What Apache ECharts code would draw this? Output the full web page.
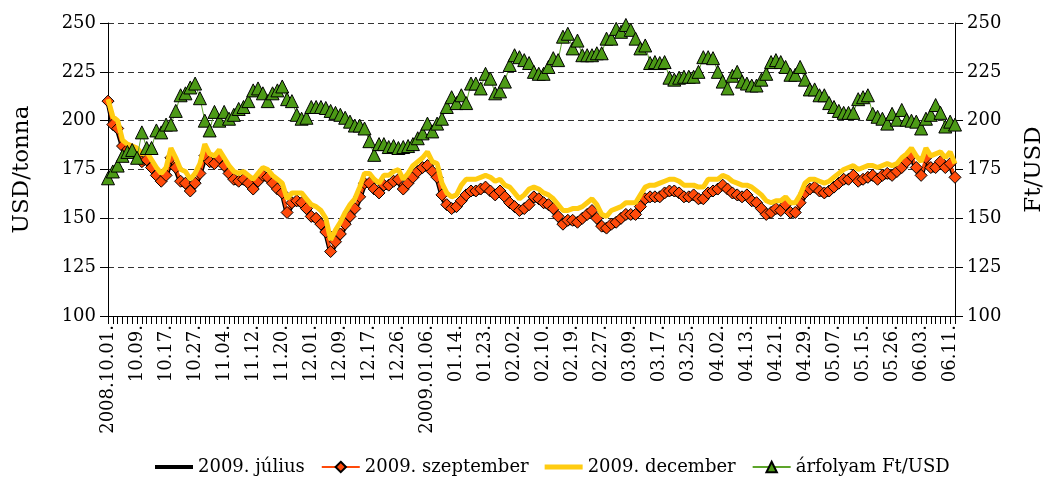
<!DOCTYPE html>
<html><head><meta charset="utf-8">
<script src="https://cdn.jsdelivr.net/npm/echarts@6/dist/echarts.min.js"></script>
<style>html,body{margin:0;padding:0;background:#fff}#c{width:1054px;height:487px}</style>
</head><body><div id="c"></div>
<script>
const tickLabels = ['2008.10.01.','10.09.','10.17.','10.27.','11.04.','11.12.','11.20.','12.01.','12.09.','12.17.','12.26.','2009.01.06.','01.14.','01.23.','02.02.','02.10.','02.19.','02.27.','03.09.','03.17.','03.25.','04.02.','04.13.','04.21.','04.29.','05.07.','05.15.','05.26.','06.03.','06.11.'];
const seriesNames = ['2009. július','2009. szeptember','2009. december','árfolyam Ft/USD'];
const julius = [208.5,196.5,194,185.5,183.5,182.5,180.5,177.5,178.5,174.5, 170.5,167.5,170.5,179,174.5,167.5,166.5,162.5,166.5,171.5, 180,177.5,176.5,179,175.5,171.5,168.5,167.5,168.5,166.5, 163.5,167.5,170.5,169.5,166.5,163.5,161.5,151.5,156.5,157.5, 156.5,153.5,149.5,148.5,145.5,141.5,131.5,136.5,140.5,145.5, 149.5,153.5,159.5,166.5,166.5,163.5,161.5,165.5,165.5,167.5, 168.5,163.5,166.5,169.5,172.5,174.5,175.5,172.5,169.5,160.5, 155.5,153.5,154.5,157.5,160.5,162.5,162.5,163.5,164.5,162.5, 160.5,162.5,159.5,156.5,154.5,152.5,153.5,155.5,159.5,158.5, 156.5,155.5,153.5,149.5,145.5,147.5,147.5,146.5,148.5,150.5, 152.5,148.5,144.5,143.5,145.5,146.5,148.5,150.5,150.5,150.5, 154.5,158.5,159.5,159.5,159.5,161.5,162.5,162.5,161.5,159.5, 159.5,160.5,158.5,158.5,161.5,162.5,163.5,165.5,163.5,161.5, 160.5,159.5,160.5,157.5,156.5,153.5,150.5,151.5,153.5,152.5, 155.5,151.5,151.5,156.5,161.5,163.5,164.5,162.5,161.5,162.5, 164.5,166.5,168.5,168.5,170.5,167.5,168.5,169.5,170.5,168.5, 170.5,171.5,170.5,172.5,174.5,177.5,180.5,174.5,170.5,179.5, 174.5,174.5,177.5,174.5,176.5,169.5];
const szeptember = [210,198,196,187,185,184,182,179,180,176, 172,169,172,181,176,169,168,164,168,173, 182,179,178,181,177,173,170,169,170,168, 165,169,172,171,168,165,163,153,158,159, 158,155,151,150,147,143,133,138,142,147, 151,155,161,168,168,165,163,167,167,169, 170,165,168,171,174,176,177,174,171,162, 157,155,156,159,162,164,164,165,166,164, 162,164,161,158,156,154,155,157,161,160, 158,157,155,151,147,149,149,148,150,152, 154,150,146,145,147,148,150,152,152,152, 156,160,161,161,161,163,164,164,163,161, 161,162,160,160,163,164,165,167,165,163, 162,161,162,159,158,155,152,153,155,154, 157,153,153,158,163,165,166,164,163,164, 166,168,170,170,172,169,170,171,172,170, 172,173,172,174,176,179,182,176,172,181, 176,176,179,176,178,171];
const december = [211,202,200,190,188,187,186,183,184,180, 176,173,176,186,181,175,174,170,173,178, 188,183,182,185,181,177,174,173,174,172, 170,173,176,175,172,170,168,160,163,163, 163,160,157,156,154,150,139,144,148,153, 157,160,166,173,173,170,168,172,172,174, 175,170,173,177,179,181,184,179,178,168, 163,161,162,167,170,170,170,171,172,171, 169,170,167,166,163,160,162,165,166,165, 163,162,160,157,154,154,155,155,156,158, 160,157,152,151,154,155,156,158,158,158, 162,166,167,167,168,169,170,170,169,167, 167,167,166,166,170,170,170,172,171,169, 168,167,167,166,164,162,159,158,159,159, 161,158,158,162,168,170,170,169,168,169, 171,173,175,176,177,175,176,177,177,176, 177,178,177,178,181,183,186,182,179,186, 182,183,184,181,184,178];
const arfolyam = [170.5,174,177,182,184,185,181,194,186,186, 195,194,198,198,205,213,214,217,219,211.5, 200,195,204.5,200,204.5,201,203,206,207,210, 215.5,216.5,214,210,214,215.5,217.5,211,210,203, 201,201.5,207,207,207,206.5,205,204,203,201.5, 199.5,197.5,197.5,196,189.5,182.5,188,188,186.5,187, 186,186.5,187,188,191,193.5,198.5,194.5,198.5,201, 207,212,209,213,209,219,219,216.5,224,221.5, 214,215,220,228.5,233.5,232.5,231,229.5,225,224, 224,227.5,232,231,243,244.5,237,241,233.5,233.5, 233.5,234.5,234.5,242,242,247,245.5,249,246.5,242, 237,238.5,229.5,230,229.5,230,222,221,222,222.5, 222.5,222.5,225,232.5,232.5,232,225,220,216.5,223, 225,220,219,218,218,221,224,230,231,230, 227.5,223.5,223.5,227.5,221,216,216,213,213,209, 207,205,204,204,204,211,212,213,203.5,202, 201,198.5,203.5,200.5,205.5,200.5,200,199.5,196,201, 203,208,204,197,199.5,198];

const categories = szeptember.map((_, i) => (i % 6 === 0 && tickLabels[i / 6]) ? tickLabels[i / 6] : '');
const FONT = '"DejaVu Serif","Liberation Serif",serif';
// legend icons: thick horizontal bars (invisible corner points keep the box 38x13)
const barIcon = (h) => 'path://M0,0H0.01V0.01H0Z M0,' + (6.5 - h / 2) + 'H38V' + (6.5 + h / 2) + 'H0Z M37.99,12.99H38V13H37.99Z';

const chart = echarts.init(document.getElementById('c'), null, {renderer: 'canvas'});
chart.setOption({
  animation: false,
  backgroundColor: '#fff',
  textStyle: {fontFamily: FONT, color: '#000'},
  grid: {left: 108, right: 98, top: 23, bottom: 171, containLabel: false},
  legend: {
    bottom: 6, left: 150, itemWidth: 38, itemHeight: 13, itemGap: 16,
    symbolKeepAspect: false,
    textStyle: {fontFamily: FONT, fontSize: 18, color: '#000'},
    data: [
      {name: seriesNames[0], icon: barIcon(4), itemStyle: {color: '#000'}},
      {name: seriesNames[1]},
      {name: seriesNames[2], icon: barIcon(5), itemStyle: {color: '#FFCC11'}},
      {name: seriesNames[3]}
    ]
  },
  xAxis: {
    type: 'category', data: categories, boundaryGap: false,
    axisLine: {lineStyle: {color: '#000', width: 1}},
    axisTick: {show: true, interval: 0, length: 8, lineStyle: {color: '#000'}},
    axisLabel: {interval: 0, rotate: 90, fontFamily: FONT, fontSize: 18, color: '#000', margin: 9},
    splitLine: {show: false}
  },
  yAxis: [
    {type: 'value', min: 100, max: 250, interval: 25, position: 'left',
     name: 'USD/tonna', nameLocation: 'middle', nameRotate: 90, nameGap: 74,
     nameTextStyle: {fontFamily: FONT, fontSize: 23, color: '#000'},
     axisLine: {show: true, lineStyle: {color: '#000'}},
     axisTick: {show: true, length: 8, lineStyle: {color: '#000'}},
     axisLabel: {fontFamily: FONT, fontSize: 18, color: '#000', margin: 12},
     splitLine: {show: true, lineStyle: {color: '#333', type: [6, 4], width: 1}}},
    {type: 'value', min: 100, max: 250, interval: 25, position: 'right',
     name: 'Ft/USD', nameLocation: 'middle', nameRotate: 90, nameGap: 68,
     nameTextStyle: {fontFamily: FONT, fontSize: 23, color: '#000'},
     axisLine: {show: true, lineStyle: {color: '#000'}},
     axisTick: {show: true, length: 8, lineStyle: {color: '#000'}},
     axisLabel: {fontFamily: FONT, fontSize: 18, color: '#000', margin: 12},
     splitLine: {show: false}}
  ],
  series: [
    {name: seriesNames[0], type: 'line', yAxisIndex: 0, data: julius, symbol: 'none', z: 1,
     lineStyle: {color: '#000', width: 4}, itemStyle: {color: '#000'}},
    {name: seriesNames[1], type: 'line', yAxisIndex: 0, data: szeptember, symbol: 'diamond', symbolSize: 12, showSymbol: true, z: 2,
     lineStyle: {color: '#FF4A0A', width: 3},
     itemStyle: {color: '#FF4A0A', borderColor: '#000', borderWidth: 1}},
    {name: seriesNames[2], type: 'line', yAxisIndex: 0, data: december, symbol: 'none', z: 3,
     lineStyle: {color: '#FFCC11', width: 5}, itemStyle: {color: '#FFCC11'}},
    {name: seriesNames[3], type: 'line', yAxisIndex: 1, data: arfolyam, symbol: 'triangle', symbolSize: 13, showSymbol: true, z: 4,
     lineStyle: {color: '#5DA52A', width: 1},
     itemStyle: {color: '#4C9A16', borderColor: '#000', borderWidth: 1}}
  ]
});
</script></body></html>
